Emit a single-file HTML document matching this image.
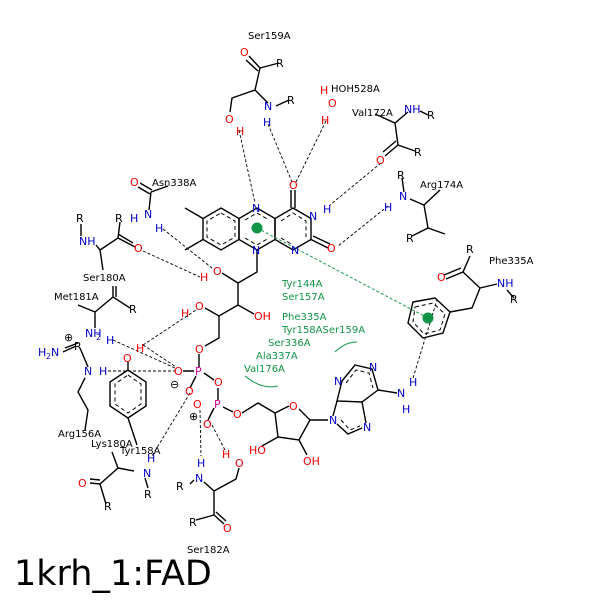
<!DOCTYPE html>
<html><head><style>
body{margin:0;background:#fff}
svg text{font-family:"DejaVu Sans","Liberation Sans",sans-serif}
</style></head><body>
<svg width="600" height="600" viewBox="0 0 600 600" xmlns="http://www.w3.org/2000/svg">
<rect width="600" height="600" fill="#fff"/>
<g stroke="#000" stroke-width="1.4" fill="none">
<polygon points="221,208 239,218.5 239,239.5 221,250 203,239.5 203,218.5"/>
<polygon points="257,208 275,218.5 275,239.5 257,250 239,239.5 239,218.5"/>
<polygon points="293,208 311,218.5 311,239.5 293,250 275,239.5 275,218.5"/>
<path d="M203,218.5 L185,208 M203,239.5 L185,250 M291,208 L291,190 M295,208 L295,190 M311,239.5 L328,248 M313,236 L330,244"/>
<path d="M257,250 L257,272 L238,283 L222,273 M238,283 L238,305 L254,314 M238,305 L219,316 L205,308 M219,316 L219,338 L205,346 M199,354 L199,367 M204,373 L214,380 M218,388 L218,400 M194,371 L183,371 M196,376 L190,388 M214,408 L208,420 M223,407 L233,412 M242,413 L258,403 L275,413"/>
<path d="M275,413 L289,406 M299,409 L310,420 L299,440 L278,437 L275,413 M310,420 L328,420 M278,437 L262,446 M299,440 L307,455"/>
<polygon points="337,401 342,381 355,365 372,369 378,390 362,402"/>
<path d="M337,401 L333,416 M362,402 L366,423 M337,424 L348,434 L362,428 M378,390 L397,393"/>
<polygon points="413,302 435,298 450,312 443,333 423,338 408,323"/>
<path d="M450,312 L472,308 L480,288 L463,272 L470,256 M480,288 L497,284 M507,290 L514,298 M463,272 L446,279 M461,268 L444,275"/>
<path d="M260,68 L249,56 M258,71 L246,60 M260,68 L279,63 M260,68 L255,90 L268,103 M276,106 L289,100 M255,90 L232,98 L230,112"/>
<path d="M375,114 L395,123 L408,112 M420,111 L428,115 M395,123 L398,145 L415,151 M398,145 L385,156 M396,141 L383,152"/>
<path d="M402,178 L404,192 M410,199 L424,205 L440,190 M424,205 L428,228 L445,234 M428,228 L412,236"/>
<path d="M140,183 L152,190 M138,187 L150,194 M151,192 L168,186 M151,192 L149,210"/>
<path d="M81,224 L81,236 M96,245 L100,250 L118,238 L120,222 M118,238 L135,247 M118,234 L133,243 M100,250 L103,270"/>
<path d="M78,305 L95,312 L113,297 L113,286 M116,297 L116,286 M113,297 L130,308 M95,312 L95,328"/>
<path d="M63,352 L76,346 M65,348 L78,343 M80,348 L88,367 M85,378 L78,392 L88,410 L85,430"/>
<polygon points="128,370 146,382 146,406 128,418 110,406 110,382"/>
<path d="M128,362 L128,370 M128,418 L137,445"/>
<path d="M112,452 L118,468 L100,484 L90,483 M100,480 L90,479 M100,484 L106,504 M118,468 L134,471 M145,478 L148,488"/>
<path d="M190,484 L194,480 M204,482 L214,491 L236,479 L239,468 M214,491 L214,515 L224,524 M216,512 L226,521 M214,515 L196,520"/>
</g>
<g stroke="#000" stroke-width="1" fill="none" stroke-dasharray="4,3">
<polygon points="221,213 235,221 235,237 221,245 207,237 207,221"/>
<path d="M245,220 L257,213 L269,220 M245,238 L257,245 L269,238 M281,221 L293,213 L306,221 L306,237 M281,238 L293,245"/>
<polygon points="128,375 141,384 141,404 128,413 115,404 115,384"/>
<path d="M346,383 L356,370 L369,373 L373,388 M341,420 L350,430 L360,426"/>
<polygon points="415,307 433,303 445,314 440,330 424,334 413,322"/>
</g>
<g stroke="#000" stroke-width="0.9" fill="none" stroke-dasharray="3,2">
<path d="M239,130 L255,203 M268,124 L292,182 M326,121 L296,182 M381,163 L330,205 M388,206 L338,246 M163,229 L212,268 M143,251 L200,277 M113,340 L175,368 M108,371 L175,371 M143,345 L196,310 M143,345 L176,367 M190,393 L152,456 M200,410 L201,456 M212,425 L226,452 M413,378 L437,300"/>
</g>
<path d="M257,228 L428,318" stroke="#1a9a50" stroke-width="1" stroke-dasharray="3,2" fill="none"/>
<circle cx="257" cy="228" r="5.5" fill="#129447"/>
<circle cx="428" cy="318" r="5.5" fill="#129447"/>
<path d="M245,376 Q262,390 278,386 M335,352 Q345,342 357,342" stroke="#129447" stroke-width="1" fill="none"/>
<g font-size="10" fill="#000">
<text x="248" y="39">Ser159A</text>
<text x="331" y="92">HOH528A</text>
<text x="352" y="116">Val172A</text>
<text x="420" y="188">Arg174A</text>
<text x="152" y="186">Asn338A</text>
<text x="83" y="281">Ser180A</text>
<text x="54" y="300">Met181A</text>
<text x="58" y="437">Arg156A</text>
<text x="91" y="447">Lys180A</text>
<text x="120" y="454">Tyr158A</text>
<text x="187" y="553">Ser182A</text>
<text x="489" y="264">Phe335A</text>
</g>
<g font-size="11" fill="#000">
<text x="276" y="67">R</text><text x="287" y="104">R</text><text x="427" y="119">R</text><text x="414" y="156">R</text>
<text x="397" y="179">R</text><text x="406" y="242">R</text><text x="76" y="222">R</text><text x="115" y="222">R</text>
<text x="129" y="313">R</text><text x="74" y="350">R</text><text x="104" y="510">R</text><text x="144" y="498">R</text>
<text x="176" y="490">R</text><text x="189" y="526">R</text><text x="466" y="253">R</text><text x="510" y="303">R</text>
</g>
<g font-size="11" fill="#e00">
<text x="240" y="56">O</text><text x="225" y="123">O</text><text x="236" y="135">H</text>
<text x="320" y="94">H</text><text x="328" y="107">O</text><text x="321" y="124">H</text>
<text x="376" y="164">O</text><text x="289" y="189">O</text><text x="327" y="252">O</text>
<text x="130" y="186">O</text><text x="134" y="252">O</text><text x="213" y="275">O</text><text x="200" y="281">H</text>
<text x="254" y="320">OH</text><text x="195" y="310">O</text><text x="181" y="317">H</text>
<text x="195" y="353">O</text><text x="174" y="375">O</text><text x="185" y="395">O</text><text x="214" y="386">O</text>
<text x="193" y="408">O</text><text x="203" y="428">O</text><text x="233" y="418">O</text>
<text x="289" y="410">O</text><text x="249" y="454">HO</text><text x="303" y="465">OH</text>
<text x="136" y="352">H</text><text x="123" y="362">O</text>
<text x="78" y="487">O</text><text x="223" y="532">O</text><text x="235" y="467">O</text><text x="222" y="458">H</text>
<text x="437" y="281">O</text>
</g>
<g font-size="11" fill="#d0009a"><text x="195" y="375">P</text><text x="214" y="408">P</text></g>
<g font-size="11" fill="#00c">
<text x="252" y="212">N</text><text x="252" y="254">N</text><text x="309" y="220">N</text><text x="323" y="213">H</text><text x="291" y="254">N</text>
<text x="264" y="110">N</text><text x="263" y="126">H</text>
<text x="404" y="113">NH</text><text x="399" y="200">N</text><text x="384" y="211">H</text>
<text x="130" y="222">H</text><text x="144" y="218">N</text><text x="155" y="232">H</text>
<text x="79" y="245">NH</text><text x="85" y="337">NH</text><text x="96" y="340" font-size="8">2</text><text x="106" y="344">H</text>
<text x="38" y="356">H</text><text x="46" y="359" font-size="8">2</text><text x="51" y="356">N</text><text x="84" y="375">N</text><text x="99" y="375">H</text>
<text x="143" y="477">N</text><text x="147" y="462">H</text><text x="195" y="482">N</text><text x="197" y="467">H</text>
<text x="329" y="424">N</text><text x="363" y="431">N</text><text x="334" y="385">N</text><text x="369" y="371">N</text>
<text x="397" y="397">N</text><text x="409" y="386">H</text><text x="402" y="413">H</text><text x="497" y="287">NH</text>
</g>
<g font-size="11" fill="#000"><text x="64" y="341">⊕</text><text x="170" y="388">⊖</text><text x="189" y="420">⊕</text></g>
<g font-size="10" fill="#129447">
<text x="282" y="287">Tyr144A</text><text x="282" y="300">Ser157A</text><text x="282" y="320">Phe335A</text>
<text x="282" y="333">Tyr158ASer159A</text><text x="268" y="346">Ser336A</text><text x="256" y="359">Ala337A</text><text x="244" y="372">Val176A</text>
</g>
<text x="14" y="585" font-size="35" fill="#000">1krh_1:FAD</text>
</svg>
</body></html>
